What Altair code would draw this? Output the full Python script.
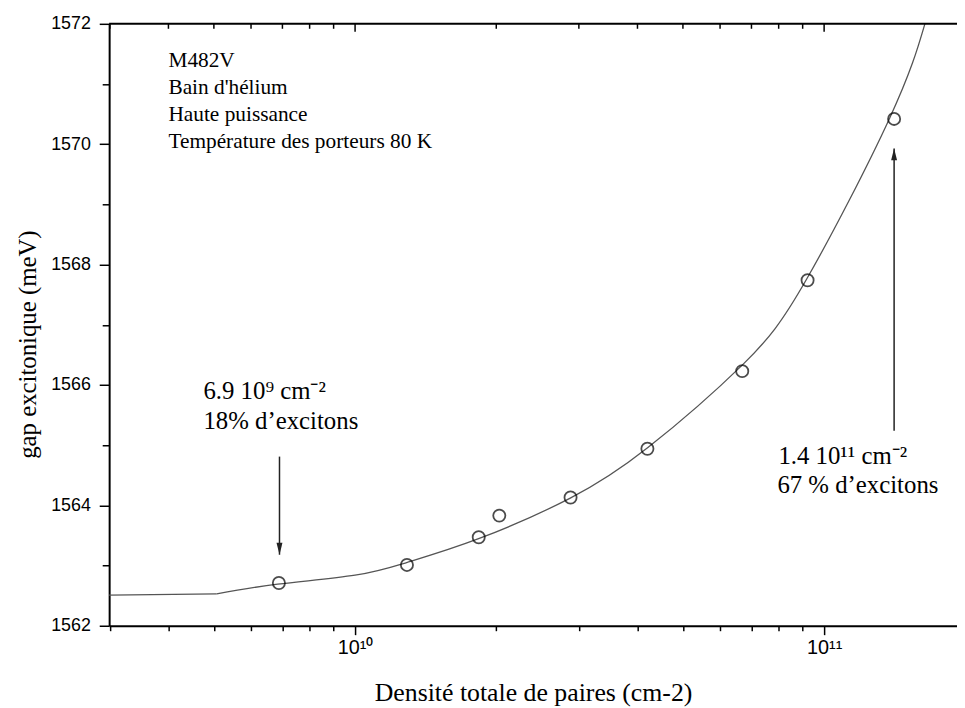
import altair as alt
import pandas as pd

# measured points
dens = [6.88e9, 1.29e10, 1.835e10, 2.03e10, 2.88e10, 4.2e10, 6.69e10, 9.22e10, 1.41e11]
gap = [1562.71, 1563.01, 1563.47, 1563.83, 1564.13, 1564.94, 1566.23, 1567.74, 1570.42]

# fitted curve: flat part, then rising part
flat_dens = [2.99e9, 5.07e9]
flat_gap = [1562.51, 1562.53]
rise_dens = [5.07e9, 6.84e9, 1.0e10, 1.288e10, 1.84e10, 2.876e10, 4.21e10,
             6.69e10, 9.18e10, 1.377e11, 1.64e11]
rise_gap = [1562.53, 1562.69, 1562.84, 1563.05, 1563.45, 1564.12, 1564.96,
            1566.33, 1567.76, 1570.42, 1572.0]

# axis ticks
x_minor = [3e9, 4e9, 5e9, 6e9, 7e9, 8e9, 9e9,
           2e10, 3e10, 4e10, 5e10, 6e10, 7e10, 8e10, 9e10]
x_major = [1e10, 1e11]
x_ticks = sorted(x_minor + x_major)
y_ticks = [1562, 1563, 1564, 1565, 1566, 1567, 1568, 1569, 1570, 1571, 1572]

# info text block
info_text = ["M482V", "Bain d'hélium", "Haute puissance", "Température des porteurs 80 K"]
info_x = [4.0e9, 4.0e9, 4.0e9, 4.0e9]
info_y = [1571.28, 1570.83, 1570.39, 1569.93]

# annotations
ann_text = ["6.9 10⁹ cm⁻²", "18% d’excitons", "1.4 10¹¹ cm⁻²", "67 % d’excitons"]
ann_x = [4.75e9, 4.75e9, 7.99e10, 7.95e10]
ann_y = [1565.76, 1565.27, 1564.69, 1564.20]

# arrows
arrow_x = [6.9e9, 1.41e11]
arrow_from = [1564.81, 1565.24]
arrow_to = [1563.18, 1569.93]
arrow_shape = ["M -0.5 -2 L 0.5 -2 L 0 0 Z", "M -0.5 2 L 0.5 2 L 0 0 Z"]

X_DOMAIN = [2.99e9, 1.92e11]
Y_DOMAIN = [1562, 1572]
W, H = 855, 607

pts = pd.DataFrame({"d": dens, "g": gap})
flat = pd.DataFrame({"d": flat_dens, "g": flat_gap})
rise = pd.DataFrame({"d": rise_dens, "g": rise_gap})
info = pd.DataFrame({"d": info_x, "g": info_y, "t": info_text})
ann = pd.DataFrame({"d": ann_x, "g": ann_y, "t": ann_text})
arr = pd.DataFrame({"d": arrow_x, "g1": arrow_from, "g2": arrow_to, "s": arrow_shape})
top_minor = pd.DataFrame({"d": x_minor})
top_major = pd.DataFrame({"d": x_major})
frame = pd.DataFrame({"d": [X_DOMAIN[0]], "d2": [X_DOMAIN[1]], "g": [Y_DOMAIN[1]]})

xscale = alt.Scale(type="log", domain=X_DOMAIN, nice=False)
yscale = alt.Scale(domain=Y_DOMAIN, nice=False, zero=False)

sans = "Liberation Sans Narrow, Arial Narrow, Liberation Sans"
serif = "Liberation Serif, Times New Roman, serif"

x_bottom = alt.Axis(
    values=x_ticks,
    labelExpr="datum.value == 1e10 ? '10¹⁰' : (datum.value == 1e11 ? '10¹¹' : '')",
    tickSize={"condition": {"test": "datum.value == 1e10 || datum.value == 1e11", "value": 9}, "value": 5},
    labelFont=sans, labelFontSize=20, labelPadding=3, labelOverlap=False, labelColor="black",
    title="Densité totale de paires (cm-2)", titleFont=serif, titleFontSize=26,
    titleFontWeight="normal", titleColor="black", titleY=75, titleBaseline="alphabetic",
    grid=False, orient="bottom",
)
y_left = alt.Axis(
    values=y_ticks,
    labelExpr="datum.value % 2 == 0 ? datum.value : ''",
    tickSize={"condition": {"test": "datum.value % 2 == 0", "value": 10}, "value": 7},
    labelFont=sans, labelFontSize=18, labelPadding=9, labelColor="black", labelOverlap=False,
    title="gap excitonique (meV)", titleFont=serif, titleFontSize=25, titleFontWeight="normal",
    titleColor="black", titleX=-82, titleY=323, titleAngle=270, titleBaseline="middle",
    grid=False,
)

flat_line = alt.Chart(flat).mark_line(color="#555555", strokeWidth=1.3).encode(
    x=alt.X("d:Q", scale=xscale, axis=x_bottom),
    y=alt.Y("g:Q", scale=yscale, axis=y_left),
)
rise_line = alt.Chart(rise).mark_line(color="#555555", strokeWidth=1.3, interpolate="natural", clip=True).encode(
    x=alt.X("d:Q", scale=xscale),
    y=alt.Y("g:Q", scale=yscale),
)
points = alt.Chart(pts).mark_point(shape="circle", filled=False, color="black", size=150, strokeWidth=1.8).encode(
    x=alt.X("d:Q", scale=xscale),
    y=alt.Y("g:Q", scale=yscale),
)
top_line = alt.Chart(frame).mark_rule(color="black", strokeWidth=2).encode(
    x=alt.X("d:Q", scale=xscale), x2="d2:Q", y=alt.Y("g:Q", scale=yscale)
)
top_minor_ticks = alt.Chart(top_minor).mark_rule(color="black", strokeWidth=1.5).encode(
    x=alt.X("d:Q", scale=xscale), y=alt.value(0), y2=alt.value(5)
)
top_major_ticks = alt.Chart(top_major).mark_rule(color="black", strokeWidth=1.5).encode(
    x=alt.X("d:Q", scale=xscale), y=alt.value(0), y2=alt.value(8)
)
info_layer = alt.Chart(info).mark_text(align="left", baseline="alphabetic", font=serif, fontSize=21.5, color="black").encode(
    x=alt.X("d:Q", scale=xscale), y=alt.Y("g:Q", scale=yscale), text="t:N"
)
ann_layer = alt.Chart(ann).mark_text(align="left", baseline="alphabetic", font=serif, fontSize=25, color="black").encode(
    x=alt.X("d:Q", scale=xscale), y=alt.Y("g:Q", scale=yscale), text="t:N"
)
arrow_lines = alt.Chart(arr).mark_rule(color="#222222", strokeWidth=1.5).encode(
    x=alt.X("d:Q", scale=xscale), y=alt.Y("g1:Q", scale=yscale), y2="g2:Q"
)
arrow_heads = alt.Chart(arr).mark_point(filled=True, color="#222222", size=144, opacity=1).encode(
    x=alt.X("d:Q", scale=xscale), y=alt.Y("g2:Q", scale=yscale),
    shape=alt.Shape("s:N", scale=None),
)

chart = alt.layer(
    flat_line, rise_line, points, top_line, top_minor_ticks, top_major_ticks,
    info_layer, ann_layer, arrow_lines, arrow_heads,
).properties(
    width=W, height=H, autosize="none",
    padding={"left": 102, "top": 13, "right": 0, "bottom": 80},
).configure_view(stroke=None).configure_axis(
    domainColor="black", domainWidth=2, tickColor="black", tickWidth=1.5,
)

chart.save("out.html", embed_options={"renderer": "svg", "actions": False})
